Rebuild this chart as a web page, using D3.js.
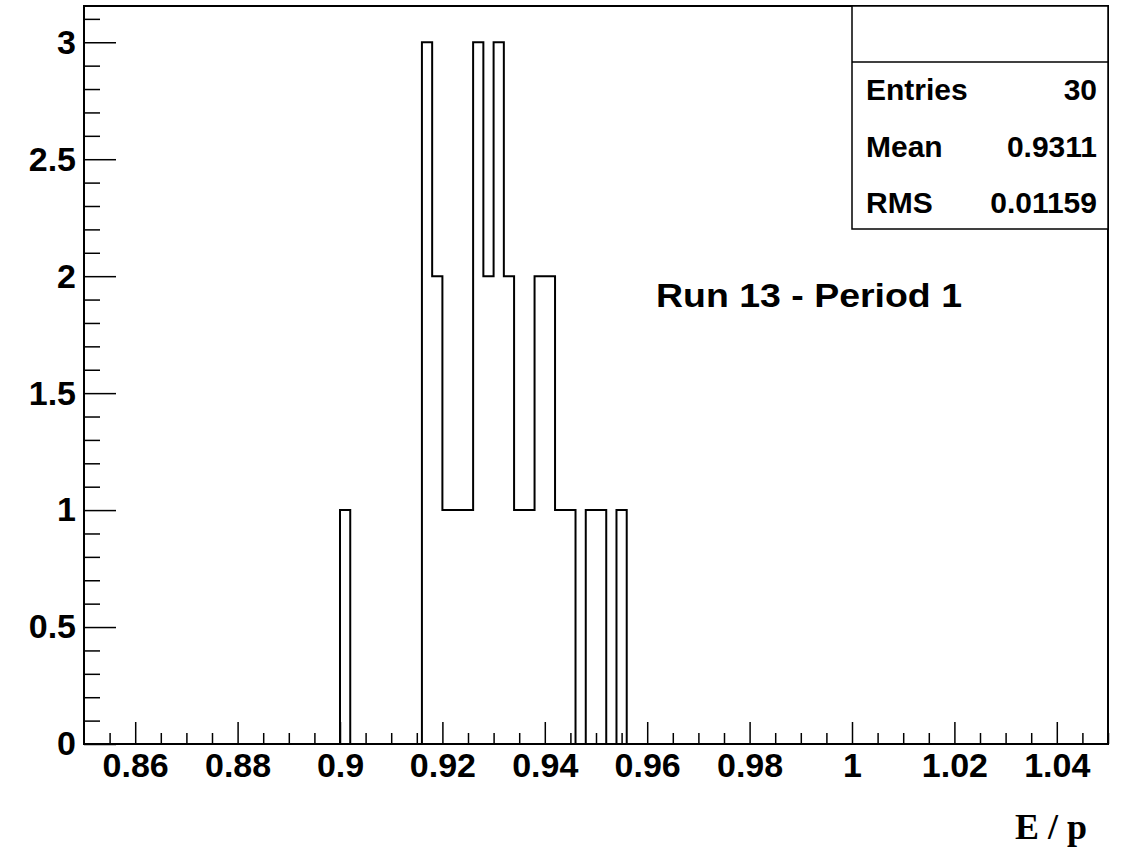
<!DOCTYPE html>
<html>
<head>
<meta charset="utf-8">
<script src="https://cdn.jsdelivr.net/npm/d3@7"></script>
<style>
  body { margin: 0; background: #fff; }
  svg { display: block; }
  .axis text { font-family: "Liberation Sans", Arial, sans-serif; font-weight: bold; font-size: 34px; fill: #000; }
  .axis line { stroke: #000; stroke-width: 1.5px; }
  .axis path { display: none; }
</style>
</head>
<body>
<svg id="chart"></svg>
<script>
// histogram E/p, 100 bins between 0.85 and 1.05 - only the filled bins listed here
const binLowEdges = [0.900, 0.916, 0.918, 0.920, 0.922, 0.924, 0.926, 0.928, 0.930, 0.932,
                     0.934, 0.936, 0.938, 0.940, 0.942, 0.944, 0.948, 0.950, 0.954];
const binCounts   = [1, 3, 2, 1, 1, 1, 3, 2, 3, 2,
                     1, 1, 2, 2, 1, 1, 1, 1, 1];

const xMajorTicks = [0.86, 0.88, 0.90, 0.92, 0.94, 0.96, 0.98, 1.00, 1.02, 1.04];
const yMajorTicks = [0, 0.5, 1, 1.5, 2, 2.5, 3];

const statLabels = ['Entries', 'Mean', 'RMS'];
const statValues = ['30', '0.9311', '0.01159'];

const plotLabel = 'Run 13 - Period 1';
const xTitle = 'E / p';

class histEP {
    constructor(_config) {
        this.config = {
            parentElement: _config.parentElement,
            containerWidth: _config.containerWidth || 1123,
            containerHeight: _config.containerHeight || 851,
            margin: _config.margin || {top: 6, right: 15, bottom: 107, left: 84}
        };
        this.initVis();
    }

    initVis() {
        let vis = this;
        vis.width = vis.config.containerWidth - vis.config.margin.left - vis.config.margin.right;
        vis.height = vis.config.containerHeight - vis.config.margin.top - vis.config.margin.bottom;

        vis.nBins = 100;
        vis.xMin = 0.85;
        vis.xMax = 1.05;

        vis.xScale = d3.scaleLinear()
            .domain([vis.xMin, vis.xMax])
            .range([0, vis.width]);

        vis.yScale = d3.scaleLinear()
            .domain([0, 3.155])
            .range([vis.height, 0]);

        vis.svg = d3.select(vis.config.parentElement)
            .attr('width', vis.config.containerWidth)
            .attr('height', vis.config.containerHeight);

        vis.chart = vis.svg.append('g')
            .attr('transform', `translate(${vis.config.margin.left},${vis.config.margin.top})`);
    }

    updateVis() {
        let vis = this;

        // full list of bins, empty ones are 0
        let step = (vis.xMax - vis.xMin) / vis.nBins;
        vis.bins = d3.range(vis.nBins).map(i => {
            let lo = vis.xMin + i * step;
            let k = binLowEdges.findIndex(e => Math.abs(e - lo) < step / 4);
            return {x0: lo, x1: lo + step, count: k >= 0 ? binCounts[k] : 0};
        });

        vis.renderVis();
    }

    renderVis() {
        let vis = this;

        // minor ticks
        let xMinor = d3.range(0.855, 1.0501, 0.005).filter(t => !xMajorTicks.some(m => Math.abs(m - t) < 1e-6));
        let yMinor = d3.range(0, 3.1501, 0.1).filter(t => !yMajorTicks.some(m => Math.abs(m - t) < 1e-6));

        vis.chart.append('g')
            .attr('class', 'axis')
            .attr('transform', `translate(0,${vis.height})`)
            .call(d3.axisBottom(vis.xScale).tickValues(xMinor).tickSize(-11).tickFormat(''));

        vis.chart.append('g')
            .attr('class', 'axis x-axis')
            .attr('transform', `translate(0,${vis.height})`)
            .call(d3.axisBottom(vis.xScale).tickValues(xMajorTicks).tickSize(-22).tickPadding(9)
                .tickFormat(d3.format('~g')));

        vis.chart.append('g')
            .attr('class', 'axis')
            .call(d3.axisLeft(vis.yScale).tickValues(yMinor).tickSize(-16).tickFormat(''));

        vis.chart.append('g')
            .attr('class', 'axis y-axis')
            .call(d3.axisLeft(vis.yScale).tickValues(yMajorTicks).tickSize(-32).tickPadding(8)
                .tickFormat(d3.format('~g')));

        // histogram outline
        let pts = vis.bins.map(b => [b.x0, b.count]);
        pts.push([vis.xMax, vis.bins[vis.bins.length - 1].count]);
        let line = d3.line()
            .x(d => vis.xScale(d[0]))
            .y(d => vis.yScale(d[1]))
            .curve(d3.curveStepAfter);

        vis.chart.append('path')
            .datum(pts)
            .attr('fill', 'none')
            .attr('stroke', '#000')
            .attr('stroke-width', 2)
            .attr('d', line);

        // frame
        vis.chart.append('rect')
            .attr('width', vis.width)
            .attr('height', vis.height)
            .attr('fill', 'none')
            .attr('stroke', '#000')
            .attr('stroke-width', 2);

        // stats box
        let box = vis.svg.append('g').attr('transform', 'translate(852,6)');
        box.append('rect')
            .attr('width', 256)
            .attr('height', 223)
            .attr('fill', '#fff')
            .attr('stroke', '#000')
            .attr('stroke-width', 1.5);
        box.append('line')
            .attr('x1', 0).attr('x2', 256)
            .attr('y1', 56).attr('y2', 56)
            .attr('stroke', '#000')
            .attr('stroke-width', 1.5);

        statLabels.forEach((s, i) => {
            box.append('text')
                .attr('x', 14)
                .attr('y', 94 + i * 56.5)
                .style('font-family', '"Liberation Sans", Arial, sans-serif')
                .style('font-weight', 'bold')
                .style('font-size', '30px')
                .text(s);
            box.append('text')
                .attr('x', 245)
                .attr('y', 94 + i * 56.5)
                .attr('text-anchor', 'end')
                .style('font-family', '"Liberation Sans", Arial, sans-serif')
                .style('font-weight', 'bold')
                .style('font-size', '30px')
                .text(statValues[i]);
        });

        // label in plot
        vis.svg.append('text')
            .attr('x', 656)
            .attr('y', 307)
            .attr('textLength', 306)
            .attr('lengthAdjust', 'spacingAndGlyphs')
            .style('font-family', '"Liberation Sans", Arial, sans-serif')
            .style('font-weight', 'bold')
            .style('font-size', '34px')
            .text(plotLabel);

        // axis title
        vis.svg.append('text')
            .attr('x', 1087)
            .attr('y', 839)
            .attr('text-anchor', 'end')
            .style('font-family', '"Liberation Serif", "Times New Roman", serif')
            .style('font-weight', 'bold')
            .style('font-size', '36px')
            .text(xTitle);
    }
}

let hist = new histEP({parentElement: '#chart'});
hist.updateVis();
</script>
</body>
</html>
